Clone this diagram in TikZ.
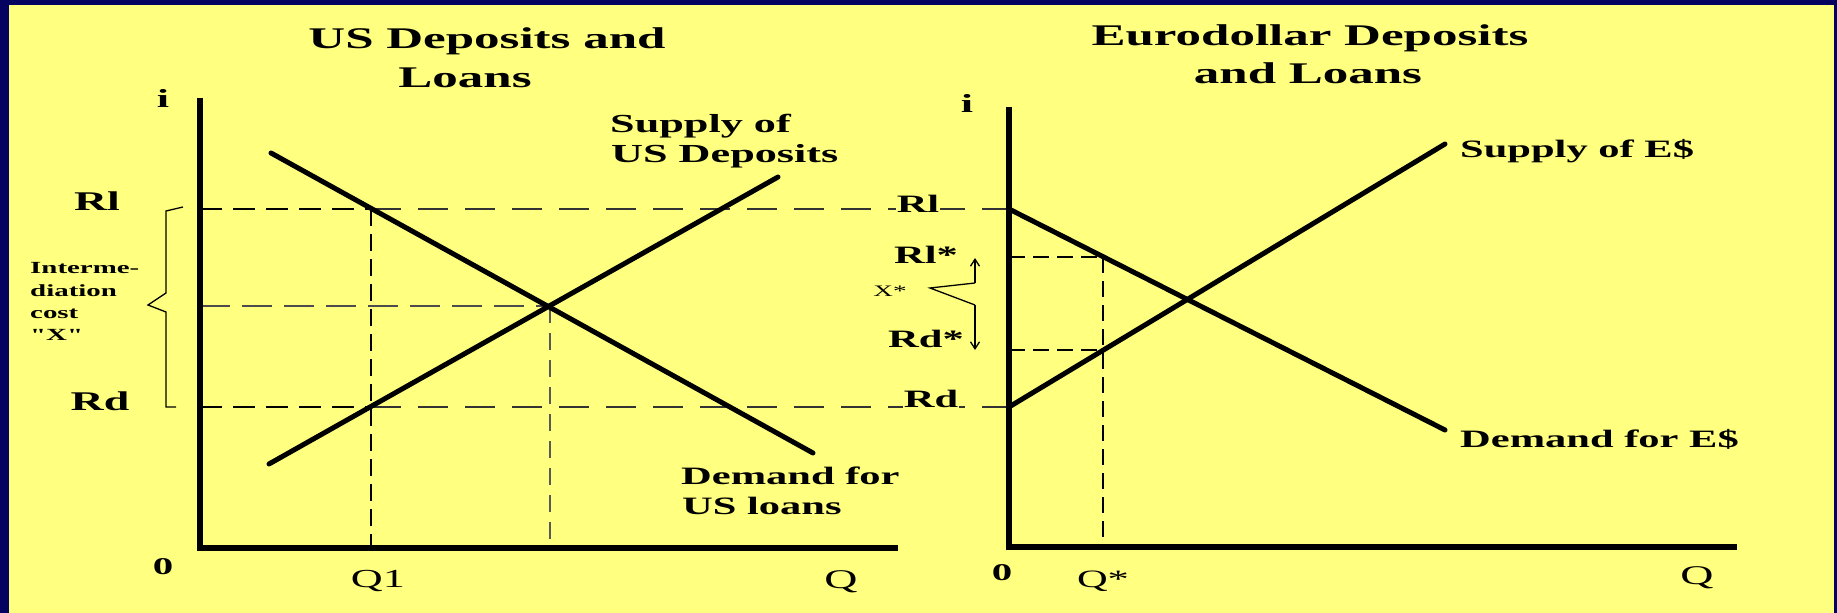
\documentclass[tikz,border=0pt]{standalone}
\usepackage{fontspec}
\setmainfont{Liberation Serif}[FakeStretch=1.7]
\newfontfamily\tnr{Liberation Serif}[FakeStretch=1.7]
\usetikzlibrary{arrows.meta}
\definecolor{navy}{RGB}{4,4,96}
\definecolor{bgyellow}{RGB}{255,255,128}
\newcommand{\fsz}[1]{\fontsize{#1}{#1}\selectfont}
\tikzset{
  axisline/.style={line width=5.5pt},
  curve/.style={line width=5pt, line cap=round},
  guidethick/.style={line width=2.8pt, dash pattern=on 22pt off 11pt},
  guidevert/.style={line width=2.6pt, dash pattern=on 17pt off 8pt},
  guidemid/.style={line width=2pt, dash pattern=on 30pt off 12pt, black!70},
  guidethin/.style={line width=2pt, dash pattern=on 30pt off 17pt, black!80},
  guidegrey/.style={line width=1.8pt, dash pattern=on 17pt off 10pt, black!65},
  guidestar/.style={line width=2.8pt, dash pattern=on 16pt off 8pt},
  thinline/.style={line width=1.3pt},
  lbl/.style={inner sep=0pt, anchor=base, font=\tnr\bfseries\fsz{25}},
  lblw/.style={inner sep=0pt, anchor=base west, font=\tnr\bfseries\fsz{25}},
  ttl/.style={inner sep=0pt, anchor=base, font=\tnr\bfseries\fsz{30}},
  small/.style={inner sep=0pt, anchor=base west, font=\tnr\bfseries\fsz{17}},
}
\begin{document}
\begin{tikzpicture}[x=1pt,y=-1pt]
\useasboundingbox (0,0) rectangle (1837,613);
\fill[navy] (0,0) rectangle (1837,613);
\fill[bgyellow] (9,5) rectangle (1834,613);

% ---------- left panel coordinates
\coordinate (L0) at (200,548);
\coordinate (Ltop) at (200,98);
\coordinate (Lend) at (898,548);
\coordinate (LRl) at (200,209);
\coordinate (LRd) at (200,407);
\coordinate (LEq) at (200,306);
\coordinate (A) at (371,209);
\coordinate (B) at (371,407);
\coordinate (Q1b) at (371,548);
\coordinate (E) at (550,306);
\coordinate (Eb) at (550,548);
\coordinate (dL1) at (271,153);
\coordinate (dL2) at (813,453);
\coordinate (sL1) at (269,464);
\coordinate (sL2) at (778,177);
% ---------- right panel coordinates
\coordinate (R0) at (1009,547);
\coordinate (Rtop) at (1009,107);
\coordinate (Rend) at (1737,547);
\coordinate (RRl) at (1009,209);
\coordinate (RRd) at (1009,407);
\coordinate (RRls) at (1009,257);
\coordinate (RRds) at (1009,350);
\coordinate (C) at (1103,257);
\coordinate (D) at (1103,350);
\coordinate (Qsb) at (1103,547);
\coordinate (dR2) at (1445,430);
\coordinate (sR2) at (1445,144);

% ---------- guide lines
\draw[guidethick] (LRl) -- (A);
\draw[guidethin] (A) -- (RRl);
\draw[guidethick] (LRd) -- (B);
\draw[guidethin] (B) -- (RRd);
\draw[guidemid] (LEq) -- (E);
\draw[guidevert] (A) -- (Q1b);
\draw[guidegrey] (E) -- (Eb);
\draw[guidestar] (RRls) -- (C);
\draw[guidestar] (RRds) -- (D);
\draw[guidestar] (C) -- (Qsb);

% ---------- axes
\draw[axisline] (Ltop) -- (L0) -- (Lend);
\draw[axisline] (Rtop) -- (R0) -- (Rend);

% ---------- curves
\draw[curve] (dL1) -- (dL2);
\draw[curve] (sL1) -- (sL2);
\draw[curve] (RRl) -- (dR2);
\draw[curve] (RRd) -- (sR2);

% ---------- brace (intermediation cost)
\draw[thinline] (183,207) -- (166,211) -- (166,293) -- (148,305) -- (166,312) -- (166,407) -- (176,407);

% ---------- X* bracket and arrows
\coordinate (xs) at (930,288);
\coordinate (up0) at (975,283);
\coordinate (up1) at (975,258);
\coordinate (dn0) at (975,305);
\coordinate (dn1) at (975,350);
\draw[thinline] (up0) -- (xs) -- (dn0);
\draw[thinline, -{Straight Barb[length=7pt,width=9pt]}] (up0) -- (up1);
\draw[thinline, -{Straight Barb[length=7pt,width=9pt]}] (dn0) -- (dn1);

% ---------- titles
\node[ttl] (t1a) at (487,48) {US Deposits and};
\node[ttl] (t1b) at (465,87) {Loans};
\node[ttl] (t2a) at (1310,45) {Eurodollar Deposits};
\node[ttl] (t2b) at (1308,83) {and Loans};

% ---------- axis labels
\node[lbl, font=\tnr\bfseries\fsz{26}] (iL) at (163,107) {i};
\node[lbl, font=\tnr\bfseries\fsz{26}] (iR) at (967,112) {i};
\node[lbl, font=\tnr\bfseries\fsz{24}] (zL) at (163,574) {0};
\node[lbl, font=\tnr\bfseries\fsz{24}] (zR) at (1002,580) {0};
\node[lbl, font=\tnr\fsz{26}] (q1) at (378,587) {Q1};
\node[lbl, font=\tnr\fsz{27}] (qL) at (841,588) {Q};
\node[lbl, font=\tnr\fsz{25}] (qs) at (1103,587) {Q*};
\node[lbl, font=\tnr\fsz{27}] (qR) at (1697,584) {Q};

% ---------- rate labels
\node[lbl, font=\tnr\bfseries\fsz{27}] (rlL) at (97,210) {Rl};
\node[lbl, font=\tnr\bfseries\fsz{27}] (rdL) at (100,410) {Rd};
\node[lbl, fill=bgyellow, inner sep=1pt] (rlR) at (918,212) {Rl};
\node[lbl] (rlsR) at (926,263) {Rl*};
\node[lbl] (rdsR) at (926,347) {Rd*};
\node[lbl, fill=bgyellow, inner sep=1pt] (rdR) at (931,407) {Rd};
\node[lbl, font=\tnr\fsz{16}] (xstar) at (890,296) {X*};

% ---------- intermediation cost text
\node[small] (ic1) at (30,273) {Interme-};
\node[small] (ic2) at (30,296) {diation};
\node[small] (ic3) at (30,318) {cost};
\node[small] (ic4) at (30,340) {"X"};

% ---------- curve labels
\node[lblw, font=\tnr\bfseries\fsz{26}] (su1) at (610,132) {Supply of};
\node[lblw, font=\tnr\bfseries\fsz{26}] (su2) at (611,162) {US Deposits};
\node[lblw] (de1) at (681,484) {Demand for};
\node[lblw] (de2) at (682,514) {US loans};
\node[lblw] (seR) at (1460,157) {Supply of E\$};
\node[lblw] (deR) at (1460,447) {Demand for E\$};
\end{tikzpicture}
\end{document}
